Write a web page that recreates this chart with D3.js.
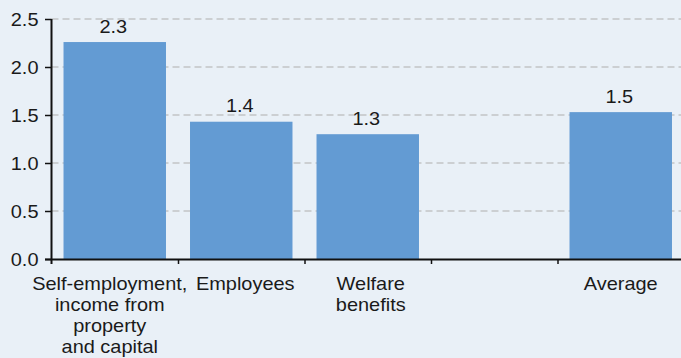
<!DOCTYPE html>
<html>
<head>
<meta charset="utf-8">
<script src="https://cdn.jsdelivr.net/npm/d3@7"></script>
<style>
  html, body { margin: 0; padding: 0; background: #e9f0f7; }
  svg { display: block; }
  text { font-family: "Liberation Sans", Arial, Helvetica, sans-serif; fill: #1a1a1a; }
</style>
</head>
<body>
<svg id="chart" width="681" height="358"></svg>
<script>
// Income categories (line breaks mark the label wrapping), one empty slot before the average
const categories = [
  "Self-employment,\nincome from\nproperty\nand capital",
  "Employees",
  "Welfare\nbenefits",
  "",
  "Average"
];
const values = [2.26, 1.43, 1.30, null, 1.53];
const yTicks = [0, 0.5, 1.0, 1.5, 2.0, 2.5];

const W = 681, H = 358;
const plotLeft = 51.5, plotRight = 684, plotTop = 19, plotBottom = 259;
const fontSize = 19, stretch = 1.05;   // text is set slightly wide
const fmt = d3.format(".1f");

const svg = d3.select("#chart");
svg.append("rect").attr("width", W).attr("height", H).attr("fill", "#e9f0f7");

const x = d3.scaleBand()
  .domain(d3.range(categories.length))
  .range([plotLeft, plotRight])
  .paddingInner(0.19)
  .paddingOuter(0.095);

const y = d3.scaleLinear().domain([0, 2.5]).range([plotBottom, plotTop]);

// helper: wide-set text placed at (px, py)
function label(g, px, py, str, anchor) {
  return g.append("text")
    .attr("transform", `translate(${px},${py}) scale(${stretch},1)`)
    .attr("text-anchor", anchor)
    .style("font-size", fontSize + "px")
    .text(str);
}

// dashed horizontal gridlines
svg.append("g")
  .selectAll("line")
  .data(yTicks.filter(d => d > 0))
  .join("line")
  .attr("x1", plotLeft).attr("x2", W)
  .attr("y1", d => y(d)).attr("y2", d => y(d))
  .attr("stroke", "#c2c4c6")
  .attr("stroke-width", 1.4)
  .attr("stroke-dasharray", "7,4");

// bars
const data = categories.map((c, i) => ({ i, c, v: values[i] }));
svg.append("g")
  .selectAll("rect")
  .data(data.filter(d => d.v != null))
  .join("rect")
  .attr("x", d => x(d.i))
  .attr("width", x.bandwidth())
  .attr("y", d => y(d.v))
  .attr("height", d => y(0) - y(d.v))
  .attr("fill", "#639bd3");

// value labels above bars
const vl = svg.append("g");
data.filter(d => d.v != null).forEach(d => {
  label(vl, x(d.i) + x.bandwidth() / 2 - 1.5, y(d.v) - 9.5, fmt(d.v), "middle");
});

// y axis: ticks via d3.axisLeft, labels drawn wide-set
const yAxis = svg.append("g")
  .attr("transform", `translate(${plotLeft},0)`)
  .call(d3.axisLeft(y).tickValues(yTicks).tickSize(6.5).tickSizeOuter(0).tickFormat(""));
yAxis.select(".domain").remove();
yAxis.selectAll(".tick line").attr("stroke", "#111").attr("stroke-width", 1.5);
const yl = svg.append("g");
yTicks.forEach(t => {
  label(yl, plotLeft - 13, y(t) + 7, fmt(t), "end");
});

// x axis: ticks at the band boundaries
const step = x.step();
const bounds = d3.range(1, categories.length).map(i => x(i) - step * x.paddingInner() / 2);
const xb = d3.scaleLinear().domain([plotLeft, plotRight]).range([plotLeft, plotRight]);
const xAxis = svg.append("g")
  .attr("transform", `translate(0,${plotBottom + 0.5})`)
  .call(d3.axisBottom(xb).tickValues(bounds).tickSize(4.5).tickSizeOuter(0).tickFormat(""));
xAxis.select(".domain").remove();
xAxis.selectAll(".tick line").attr("stroke", "#111").attr("stroke-width", 1.5);

// axis lines
svg.append("line")
  .attr("x1", 45).attr("x2", W)
  .attr("y1", plotBottom + 0.5).attr("y2", plotBottom + 0.5)
  .attr("stroke", "#111").attr("stroke-width", 2);
svg.append("line")
  .attr("x1", plotLeft).attr("x2", plotLeft)
  .attr("y1", plotTop).attr("y2", plotBottom + 5)
  .attr("stroke", "#111").attr("stroke-width", 2);

// category labels, wrapped
const cl = svg.append("g");
data.forEach(d => {
  const lines = d.c ? d.c.split("\n") : [];
  const cx = x(d.i) + x.bandwidth() / 2 + (d.i === 0 ? -5 : d.i === 1 ? 4 : d.i === 2 ? 3 : 0);
  lines.forEach((ln, k) => {
    label(cl, cx, 289.5 + k * 21.3, ln, "middle");
  });
});
</script>
</body>
</html>
